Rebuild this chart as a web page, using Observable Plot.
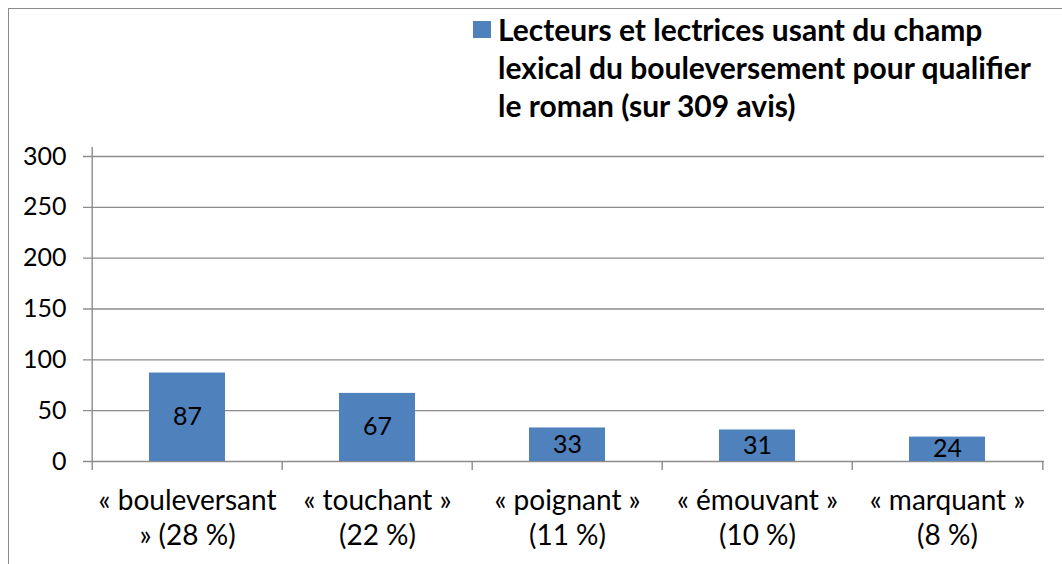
<!DOCTYPE html>
<html><head><meta charset="utf-8">
<script src="https://cdn.jsdelivr.net/npm/d3@7"></script>
<script src="https://cdn.jsdelivr.net/npm/@observablehq/plot@0.6"></script>
<style>
body{margin:0;background:#fff;}
#wrap{position:relative;width:1062px;height:564px;overflow:hidden;font-family:Lato,"Open Sans",sans-serif;}
#frame{position:absolute;left:8px;top:8px;width:1100px;height:620px;border:1.5px solid #8c8c8c;box-sizing:border-box;}
#chart{position:absolute;left:0;top:0;}
#legend{position:absolute;left:473px;top:10px;}
#swatch{position:absolute;left:0;top:11px;width:18px;height:17px;background:#4F81BD;}
#ltext{position:absolute;left:25px;top:0;width:600px;font-weight:bold;font-size:30px;line-height:38px;color:#000;white-space:nowrap;}
</style></head>
<body>
<div id="wrap">
  <div id="frame"></div>
  <div id="chart"></div>
  <div id="legend"><div id="swatch"></div><div id="ltext"></div></div>
</div>
<script>
const categories = ["bouleversant", "touchant", "poignant", "émouvant", "marquant"];
const counts = [87, 67, 33, 31, 24];
const tickLabels = ["« bouleversant\n» (28 %)", "« touchant »\n(22 %)", "« poignant »\n(11 %)", "« émouvant »\n(10 %)", "« marquant »\n(8 %)"];
const yTicks = [0, 50, 100, 150, 200, 250, 300];
const seriesName = "Lecteurs et lectrices usant du champ\nlexical du bouleversement pour qualifier\nle roman (sur 309 avis)";

document.getElementById("ltext").innerHTML = seriesName.split("\n").join("<br>");

const data = categories.map((c, i) => ({cat: c, count: counts[i], label: tickLabels[i]}));
const W = 1062, H = 564, mL = 91, mR = 18, mT = 156, mB = 103;
const step = (W - mL - mR) / categories.length;
const grey = "#8c8c8c";

const chart = Plot.plot({
  width: W, height: H, marginTop: mT, marginBottom: mB, marginLeft: mL, marginRight: mR,
  style: {fontFamily: "Lato, 'Open Sans', sans-serif", fontSize: "24px", color: "#000", background: "transparent", overflow: "visible"},
  x: {domain: categories, paddingInner: 0.6, paddingOuter: 0.3, label: null},
  y: {domain: [0, 300], label: null},
  marks: [
    Plot.ruleY(yTicks, {y: d => d, stroke: grey, strokeWidth: 1.4, insetLeft: -8}),
    Plot.barY(data, {x: "cat", y: "count", fill: "#4F81BD"}),
    Plot.ruleX([categories[0]], {x: d => d, dx: -step / 2, y1: 300, y2: 0, insetTop: -9, insetBottom: -9, stroke: grey, strokeWidth: 1.4}),
    Plot.ruleX(categories.slice(1), {x: d => d, dx: -step / 2, y1: 0, y2: 0, insetBottom: -9, stroke: grey, strokeWidth: 1.4}),
    Plot.ruleX([categories[categories.length - 1]], {x: d => d, dx: step / 2, y1: 0, y2: 0, insetBottom: -9, stroke: grey, strokeWidth: 1.4}),
    Plot.text(data, {x: "cat", y: d => d.count / 2, text: d => String(d.count), fontSize: 25, fill: "#000"}),
    Plot.axisY(yTicks, {tickSize: 0, tickPadding: 25, fontSize: 25, fill: "#000"}),
    Plot.axisX({tickSize: 0, tickPadding: 24, fontSize: 28, lineHeight: 1.25, fill: "#000", tickFormat: c => tickLabels[categories.indexOf(c)]})
  ]
});
document.getElementById("chart").appendChild(chart);
</script>
</body></html>
